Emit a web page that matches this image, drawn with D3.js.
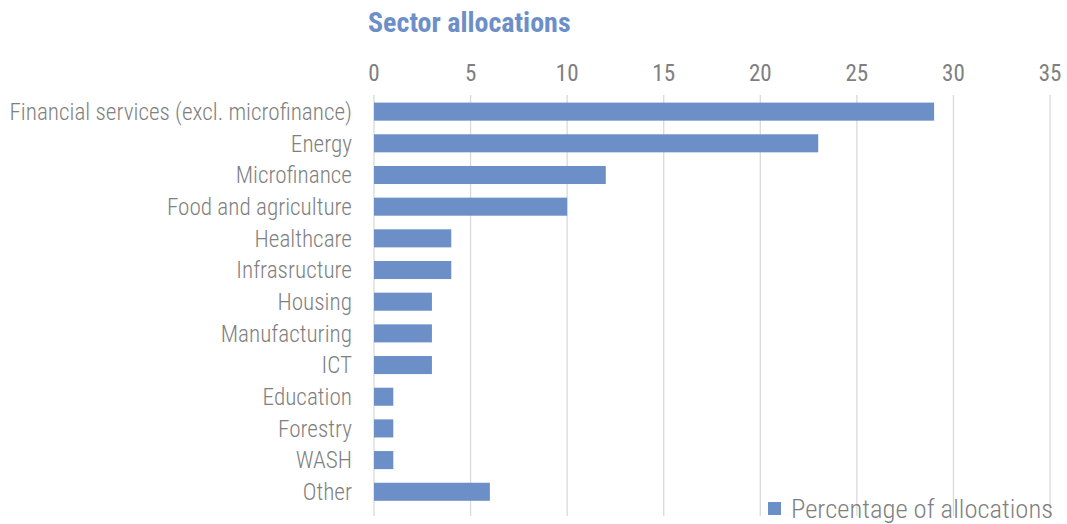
<!DOCTYPE html>
<html>
<head>
<meta charset="utf-8">
<script src="https://d3js.org/d3.v7.min.js"></script>
<style>
    body { margin: 0; background: #fff; }
    text { font-family: "Liberation Sans Narrow", "Roboto Condensed", "Roboto", sans-serif; }
</style>
</head>
<body>
<div id="chart"></div>
<script>
    const categories = ["Financial services (excl. microfinance)", "Energy", "Microfinance",
        "Food and agriculture", "Healthcare", "Infrasructure", "Housing", "Manufacturing",
        "ICT", "Education", "Forestry", "WASH", "Other"];
    const values = [29, 23, 12, 10, 4, 4, 3, 3, 3, 1, 1, 1, 6];
    const ticks = [0, 5, 10, 15, 20, 25, 30, 35];
    const seriesName = "Percentage of allocations";

    const width = 1067, height = 524;
    const margin = {top: 95, left: 374, right: 17, bottom: 8};

    const svg = d3.select("#chart").append("svg")
        .attr("width", width)
        .attr("height", height);

    const x = d3.scaleLinear().domain([0, 35]).range([margin.left, width - margin.right]);
    const y = d3.scaleBand().domain(categories).range([margin.top, 95 + 13 * 31.8]).paddingInner(0.43).paddingOuter(0.24);

    // gridlines
    svg.append("g").selectAll("line")
        .data(ticks)
        .enter().append("line")
        .attr("x1", d => x(d)).attr("x2", d => x(d))
        .attr("y1", 95).attr("y2", 516)
        .attr("stroke", "#d9d9d9")
        .attr("stroke-width", 1.3);

    // tick labels on top
    svg.append("g").selectAll("text")
        .data(ticks)
        .enter().append("text")
        .attr("x", d => x(d))
        .attr("y", 81)
        .attr("text-anchor", "middle")
        .attr("fill", "#7f7f7f")
        .style("font-size", "23px")
        .text(d => d);

    // bars
    svg.append("g").selectAll("rect")
        .data(values)
        .enter().append("rect")
        .attr("x", x(0))
        .attr("y", (d, i) => y(categories[i]))
        .attr("width", d => x(d) - x(0))
        .attr("height", y.bandwidth())
        .attr("fill", "#6d8fc8");

    // category labels
    svg.append("g").selectAll("text")
        .data(categories)
        .enter().append("text")
        .attr("x", 352)
        .attr("y", d => y(d) + y.bandwidth() / 2)
        .attr("dy", "0.36em")
        .attr("text-anchor", "end")
        .attr("fill", "#7f7f7f")
        .style("font-size", "23.2px")
        .style("font-weight", "300")
        .text(d => d);

    // title
    svg.append("text")
        .attr("x", 368)
        .attr("y", 32)
        .attr("fill", "#6d8fc8")
        .style("font-size", "28px")
        .style("font-weight", "bold")
        .text("Sector allocations");

    // legend
    svg.append("rect")
        .attr("x", 768).attr("y", 502)
        .attr("width", 13).attr("height", 13)
        .attr("fill", "#6d8fc8");
    svg.append("text")
        .attr("x", 791)
        .attr("y", 518)
        .attr("fill", "#7f7f7f")
        .style("font-size", "26.6px")
        .style("font-weight", "300")
        .text(seriesName);
</script>
</body>
</html>
